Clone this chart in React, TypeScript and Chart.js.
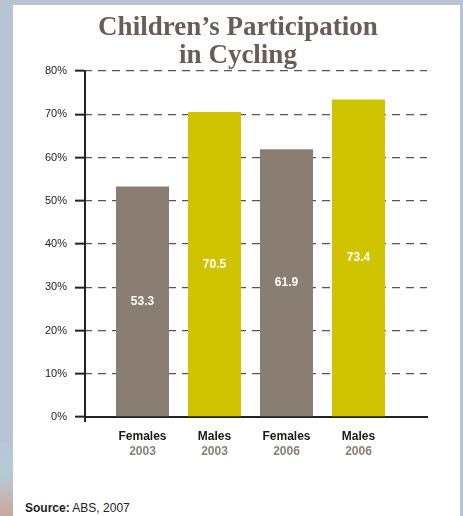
import React, { useEffect, useRef } from "react";
import { Chart, registerables } from "chart.js";

Chart.register(...registerables);

const categories = ["Females", "Males", "Females", "Males"];
const years = ["2003", "2003", "2006", "2006"];
const values = [53.3, 70.5, 61.9, 73.4];
const barColors = ["#8a7d71", "#d0c300", "#8a7d71", "#d0c300"];
const titleLines = ["Children\u2019s Participation", "in Cycling"];
const sourceLabel = "Source:";
const sourceText = " ABS, 2007";

const SANS = "'Liberation Sans', Arial, sans-serif";

export default function App() {
  const ref = useRef<HTMLCanvasElement | null>(null);

  useEffect(() => {
    if (!ref.current) return;

    const titlePlugin = {
      id: "titleText",
      afterDraw(chart: any) {
        const ctx = chart.ctx;
        ctx.save();
        ctx.font = "bold 27px 'Liberation Serif', 'Times New Roman', serif";
        ctx.fillStyle = "#6a5d54";
        ctx.textAlign = "center";
        ctx.textBaseline = "alphabetic";
        ctx.fillText(titleLines[0], 225, 30);
        ctx.fillText(titleLines[1], 225, 58);
        // small extension of the y axis below the baseline
        const a = chart.chartArea;
        ctx.strokeStyle = "#222222";
        ctx.lineWidth = 2;
        ctx.beginPath();
        ctx.moveTo(a.left, a.bottom);
        ctx.lineTo(a.left, a.bottom + 5);
        ctx.stroke();
        ctx.restore();
      },
    };

    const valuePlugin = {
      id: "valueLabels",
      afterDatasetsDraw(chart: any) {
        const ctx = chart.ctx;
        const meta = chart.getDatasetMeta(0);
        ctx.save();
        ctx.font = `bold 12px ${SANS}`;
        ctx.fillStyle = "#ffffff";
        ctx.textAlign = "center";
        ctx.textBaseline = "middle";
        meta.data.forEach((bar: any, i: number) => {
          const p = bar.getProps(["x", "y", "base"], true);
          ctx.fillText(values[i].toFixed(1), p.x, (p.y + p.base) / 2);
        });
        ctx.restore();
      },
    };

    const xMin = 1 - 57.5 / 72;
    const xMax = xMin + 342 / 72;

    const chart = new Chart(ref.current, {
      type: "bar",
      data: {
        datasets: [
          {
            data: values.map((v, i) => ({ x: i + 1, y: v })),
            backgroundColor: barColors,
            borderWidth: 0,
            categoryPercentage: 1,
            barPercentage: 0.736,
          },
        ],
      },
      options: {
        animation: false,
        responsive: false,
        layout: { padding: { top: 66, left: 0, right: 33, bottom: 22 } },
        plugins: {
          legend: { display: false },
          title: { display: false },
          tooltip: { enabled: false },
        },
        scales: {
          x: {
            type: "linear",
            position: "bottom",
            offset: false,
            weight: 0,
            min: xMin,
            max: xMax,
            afterBuildTicks: (scale: any) => {
              scale.ticks = categories.map((_, i) => ({ value: i + 1 }));
            },
            afterFit: (scale: any) => {
              scale.height = 26;
            },
            grid: { display: false, drawTicks: false, offset: false },
            border: { display: true, color: "#222222", width: 2 },
            ticks: {
              autoSkip: false,
              maxRotation: 0,
              padding: 12,
              color: "#1a1a1a",
              font: { family: SANS, size: 12, weight: "bold" },
              callback: (_v: any, i: number) => categories[i],
            },
          },
          x2: {
            type: "linear",
            position: "bottom",
            offset: false,
            weight: 1,
            min: xMin,
            max: xMax,
            afterBuildTicks: (scale: any) => {
              scale.ticks = years.map((_, i) => ({ value: i + 1 }));
            },
            afterFit: (scale: any) => {
              scale.height = 30;
            },
            grid: { display: false, drawTicks: false, offset: false },
            border: { display: false },
            ticks: {
              autoSkip: false,
              maxRotation: 0,
              padding: 1,
              color: "#8a7d71",
              font: { family: SANS, size: 12, weight: "bold" },
              callback: (_v: any, i: number) => years[i],
            },
          },
          y: {
            min: 0,
            max: 80,
            afterFit: (scale: any) => {
              scale.width = 72;
            },
            grid: {
              color: (c: any) => (c.tick && c.tick.value === 0 ? "rgba(0,0,0,0)" : "#555555"),
              lineWidth: 1.3,
              tickColor: "#222222",
              tickWidth: 2,
              tickLength: 10,
            },
            border: { display: true, color: "#222222", width: 2, dash: [8, 6], dashOffset: 2 },
            ticks: {
              stepSize: 10,
              padding: 8,
              color: "#222222",
              font: { family: SANS, size: 11 },
              callback: (v: any) => `${v}%`,
            },
          },
        },
      },
      plugins: [titlePlugin, valuePlugin],
    } as any);

    return () => chart.destroy();
  }, []);

  return (
    <div
      style={{
        position: "fixed",
        left: 0,
        top: 0,
        width: 463,
        height: 516,
        background: "#b8c4d6",
        overflow: "hidden",
      }}
    >
      <div
        style={{
          position: "absolute",
          left: 0,
          top: 440,
          width: 13,
          height: 76,
          background: "linear-gradient(#b8c4d6, #b4ccd8 40%, #c6b4b0 80%, #c8a89e)",
        }}
      />
      <div
        style={{
          position: "absolute",
          left: 13,
          top: 5,
          width: 447,
          height: 511,
          background: "#ffffff",
        }}
      >
        <canvas ref={ref} width={447} height={490} style={{ display: "block" }} />
        <div
          style={{
            position: "absolute",
            left: 12,
            top: 496,
            fontFamily: SANS,
            fontSize: 12,
            color: "#222222",
            lineHeight: "14px",
            whiteSpace: "pre",
          }}
        >
          <b>{sourceLabel}</b>
          {sourceText}
        </div>
      </div>
    </div>
  );
}
